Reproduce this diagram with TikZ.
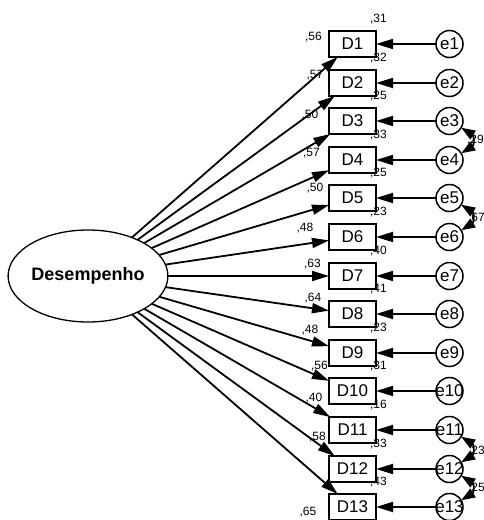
\documentclass[tikz,border=0pt]{standalone}
\usepackage{fontspec}
\setmainfont{Liberation Sans}
\usetikzlibrary{arrows.meta,shapes.geometric}

\begin{document}
\begin{tikzpicture}[x=1pt,y=-1pt,
  every node/.style={inner sep=0pt, outer sep=0pt},
  latent/.style={ellipse, draw, line width=1.3pt, minimum width=156pt,
    minimum height=92pt, font=\fontsize{18}{20}\selectfont\bfseries},
  observed/.style={rectangle, draw, line width=2pt, minimum width=47pt,
    minimum height=26pt, font=\fontsize{17}{20}\selectfont},
  errvar/.style={circle, draw, line width=1.5pt, minimum size=27pt,
    font=\fontsize{17}{20}\selectfont},
  coef/.style={font=\fontsize{12}{14}\selectfont},
  regarrow/.style={line width=1.8pt, -{Triangle[length=17pt,width=10pt]}},
  covarrow/.style={line width=1.8pt,
    {Triangle[length=14pt,width=10pt]}-{Triangle[length=14pt,width=10pt]}}
]
\useasboundingbox (0,0) rectangle (484,520);

% latent factor
\node[latent] (L) at (88,276) {Desempenho};

% indicators, error terms, loadings and squared multiple correlations
\foreach \k/\yy/\lx/\ly/\lv/\rv in {
   1/44/313.5/37/56/31,
   2/83/315/75/57/32,
   3/121/310/115/50/25,
   4/160/311.5/153/57/33,
   5/198/315/188/50/25,
   6/237/305/228/48/23,
   7/276/312.5/264/63/40,
   8/314/313/298/64/41,
   9/353/310/330/48/23,
  10/391/319.5/366/56/31,
  11/430/314/398/40/16,
  12/469/317.5/437/58/33,
  13/507/308/512/65/43}
{
  \node[observed] (D\k) at (352.5,\yy) {D\k};
  \node[errvar] (e\k) at (449.5,\yy) {\makebox[0pt]{e\k}};
  \draw[regarrow] (L) -- (D\k);
  \draw[regarrow] (e\k) -- (D\k);
  \node[coef] (w\k) at (\lx,\ly) {,\lv};
  \node[coef] (r\k) at (378.5,\yy-25) {,\rv};
}

% error covariances
\draw[covarrow] (e3.-30) .. controls +(13,8) and +(13,-8) .. (e4.30);
\draw[covarrow] (e5.-30) .. controls +(13,8) and +(13,-8) .. (e6.30);
\draw[covarrow] (e11.-30) .. controls +(13,8) and +(13,-8) .. (e12.30);
\draw[covarrow] (e12.-30) .. controls +(13,8) and +(13,-8) .. (e13.30);

\node[coef, anchor=west] (c34) at (467,140) {,29};
\node[coef, anchor=west] (c56) at (468,218) {,67};
\node[coef, anchor=west] (c1112) at (468,451) {,23};
\node[coef, anchor=west] (c1213) at (468,488) {,25};
\end{tikzpicture}
\end{document}
